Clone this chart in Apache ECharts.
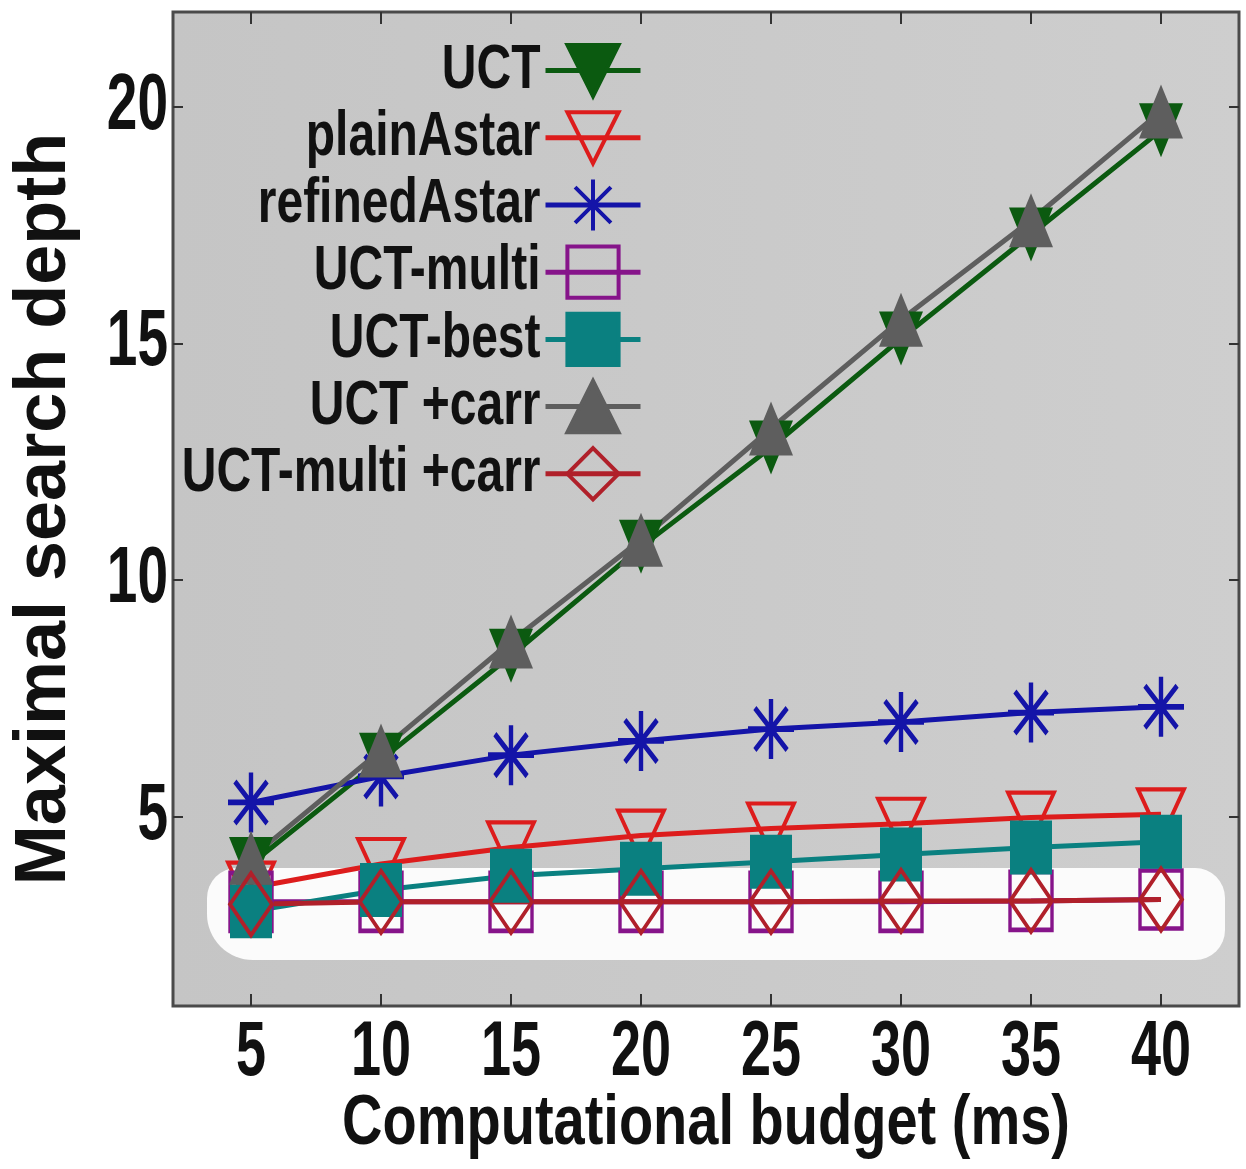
<!DOCTYPE html>
<html>
<head>
<meta charset="utf-8">
<script src="https://cdn.jsdelivr.net/npm/echarts@6/dist/echarts.min.js"></script>
<style>
html, body { margin: 0; padding: 0; background: #fff; }
#main { width: 1246px; height: 1169px; }
</style>
</head>
<body>
<div id="main"></div>
<script>
var myChart = echarts.init(document.getElementById('main'));

// budget (ms) on x, maximal search depth on y
var budget = [5, 10, 15, 20, 25, 30, 35, 40];
var xTicks = [5, 10, 15, 20, 25, 30, 35, 40];
var yTicks = [5, 10, 15, 20];

var dataUCT          = [4.0, 6.2, 8.4, 10.7, 12.8, 15.1, 17.3, 19.5];
var dataPlainAstar   = [3.5, 4.0, 4.35, 4.6, 4.75, 4.85, 4.98, 5.05];
var dataRefinedAstar = [5.3, 5.85, 6.3, 6.6, 6.85, 7.0, 7.2, 7.32];
var dataUCTmulti     = [3.2, 3.2, 3.2, 3.2, 3.2, 3.2, 3.22, 3.25];
var dataUCTbest      = [3.0, 3.45, 3.75, 3.9, 4.05, 4.2, 4.35, 4.47];
var dataUCTcarr      = [4.13, 6.4, 8.7, 10.85, 13.2, 15.5, 17.6, 19.9];
var dataMultiCarr    = [3.15, 3.2, 3.2, 3.2, 3.2, 3.22, 3.22, 3.25];

function pairs(arr) {
    return budget.map(function (b, i) { return [b, arr[i]]; });
}

var font = '"Liberation Sans", Arial, sans-serif';
var asterisk = 'path://M10,0 L10,20 M0,10 L20,10 M3,3 L17,17 M3,17 L17,3';

function mkSeries(name, data, color, symbol, opts) {
    opts = opts || {};
    return {
        name: name,
        type: 'line',
        data: pairs(data),
        color: color,
        symbol: symbol,
        symbolSize: opts.size || [44, 54],
        symbolRotate: opts.rotate || 0,
        showAllSymbol: true,
        lineStyle: { color: color, width: 5 },
        itemStyle: opts.filled
            ? { color: color, borderColor: color, borderWidth: 0 }
            : { color: 'rgba(0,0,0,0)', borderColor: color, borderWidth: opts.bw || 4 },
        emphasis: { disabled: true }
    };
}

var tickStyle = { color: '#333', width: 2 };

var option = {
    backgroundColor: '#ffffff',
    animation: false,
    grid: {
        left: 173,
        right: 7,
        top: 12,
        bottom: 163,
        show: true,
        backgroundColor: new echarts.graphic.LinearGradient(0, 0, 1, 0, [
            { offset: 0, color: '#c5c5c5' },
            { offset: 1, color: '#cecece' }
        ]),
        borderColor: '#4a4a4a',
        borderWidth: 3
    },
    legend: {
        orient: 'vertical',
        right: 598,
        top: 38,
        align: 'right',
        itemWidth: 95,
        itemHeight: 64,
        itemGap: 12,
        lineStyle: { width: 5 },
        itemStyle: { borderWidth: 4 },
        textStyle: {
            fontFamily: font,
            fontWeight: 'bold',
            fontSize: 48,
            color: '#111'
        },
        data: ['UCT', 'plainAstar', 'refinedAstar', 'UCT-multi', 'UCT-best', 'UCT +carr', 'UCT-multi +carr']
    },
    xAxis: [{
        type: 'value',
        min: 2,
        max: 43,
        name: 'Computational budget (ms)',
        nameLocation: 'middle',
        nameGap: 84,
        nameTextStyle: { fontFamily: font, fontWeight: 'bold', fontSize: 56, color: '#111' },
        axisLine: { show: false },
        axisTick: { inside: true, length: 12, customValues: xTicks, lineStyle: tickStyle },
        axisLabel: {
            customValues: xTicks,
            margin: 8,
            fontFamily: font,
            fontWeight: 'bold',
            fontSize: 54,
            color: '#111'
        },
        splitLine: { show: false }
    }, {
        type: 'value',
        position: 'top',
        min: 2,
        max: 43,
        axisLine: { show: false },
        axisTick: { inside: true, length: 12, customValues: xTicks, lineStyle: tickStyle },
        axisLabel: { show: false },
        splitLine: { show: false }
    }],
    yAxis: [{
        type: 'value',
        min: 1,
        max: 22,
        name: 'Maximal search depth',
        nameLocation: 'middle',
        nameGap: 92,
        nameTextStyle: { fontFamily: font, fontWeight: 'bold', fontSize: 72, color: '#111' },
        axisLine: { show: false },
        axisTick: { inside: true, length: 10, customValues: yTicks, lineStyle: tickStyle },
        axisLabel: {
            customValues: yTicks,
            margin: 5,
            fontFamily: font,
            fontWeight: 'bold',
            fontSize: 55,
            color: '#111'
        },
        splitLine: { show: false }
    }, {
        type: 'value',
        position: 'right',
        min: 1,
        max: 22,
        axisLine: { show: false },
        axisTick: { inside: true, length: 10, customValues: yTicks, lineStyle: tickStyle },
        axisLabel: { show: false },
        splitLine: { show: false }
    }],
    // white highlight scribble over the lower part of the plot
    graphic: [{
        type: 'rect',
        z: 1,
        shape: { x: 207, y: 868, width: 1018, height: 92, r: [30, 30, 30, 46] },
        style: { fill: 'rgba(255,255,255,0.92)' }
    }],
    series: [
        mkSeries('UCT', dataUCT, '#0b5a10', 'triangle', { filled: true, rotate: 180 }),
        mkSeries('plainAstar', dataPlainAstar, '#dd1c1c', 'triangle', { rotate: 180, size: [46, 50] }),
        mkSeries('refinedAstar', dataRefinedAstar, '#1414a8', asterisk, { size: [46, 60], bw: 5 }),
        mkSeries('UCT-multi', dataUCTmulti, '#86148a', 'rect', { size: [42, 58] }),
        mkSeries('UCT-best', dataUCTbest, '#0a8080', 'rect', { filled: true, size: [42, 54] }),
        mkSeries('UCT +carr', dataUCTcarr, '#5e5e5e', 'triangle', { filled: true }),
        mkSeries('UCT-multi +carr', dataMultiCarr, '#b0202a', 'diamond', { size: [42, 62] })
    ]
};

myChart.setOption(option);

// the reference lettering is tall and narrow: stretch the upright texts vertically
// (y labels carry a rotation of about -2e-16, so compare against a tolerance)
var stretchBySize = { 55: 1.45, 54: 1.45, 48: 1.3, 56: 1.25 };
function stretchTexts() {
    var changed = false;
    var visit = function (el) {
        if (el.type === 'text' && Math.abs(el.rotation || 0) < 1e-6 && el.style && !el.__stretched) {
            var k = stretchBySize[parseInt(el.style.fontSize, 10)];
            if (k) {
                el.originX = el.style.x || 0;
                el.originY = el.style.y || 0;
                el.scaleY = k;
                el.__stretched = true;
                el.markRedraw();
                changed = true;
            }
        }
        if (el.isGroup) el.eachChild(visit);
    };
    myChart.getZr().storage.getRoots().forEach(visit);
    if (changed) myChart.getZr().refresh();
}
stretchTexts();
myChart.on('rendered', stretchTexts);
</script>
</body>
</html>
